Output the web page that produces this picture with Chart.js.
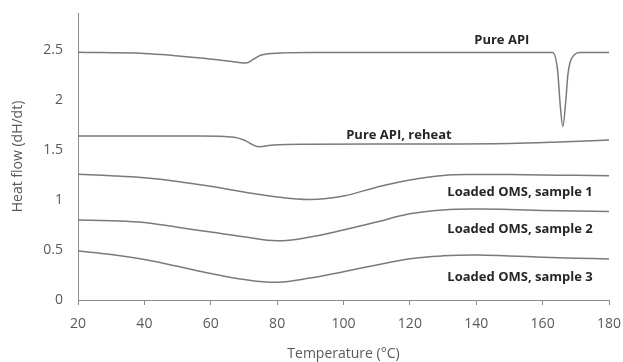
<!DOCTYPE html>
<html>
<head>
<meta charset="utf-8">
<script src="https://cdn.jsdelivr.net/npm/chart.js@4"></script>
<style>
  html, body { margin: 0; padding: 0; background: #fff; }
  #wrap { width: 623px; height: 362px; }
</style>
</head>
<body>
<div id="wrap"><canvas id="dscChart"></canvas></div>
<script>
// temperature (°C) / heat flow readings for each trace
var apiTemp = [20, 40, 57, 65, 70.6, 73, 75.2, 81, 90, 120, 150, 163, 164.5, 165.3, 166.1, 167, 167.6, 168.3, 169.5, 171, 180];
var apiFlow = [2.477, 2.465, 2.42, 2.39, 2.37, 2.41, 2.45, 2.47, 2.475, 2.475, 2.475, 2.475, 2.30, 1.95, 1.735, 2.0, 2.25, 2.38, 2.45, 2.475, 2.475];

var reheatTemp = [20, 57, 67, 70, 74.5, 79, 90, 120, 150, 165, 180];
var reheatFlow = [1.64, 1.64, 1.627, 1.60, 1.533, 1.55, 1.557, 1.56, 1.565, 1.58, 1.60];

var omsTemp = [20, 30, 40, 50, 60, 70, 80, 90, 100, 110, 120, 130, 140, 150, 160, 170, 180];
var oms1Flow = [1.257, 1.243, 1.222, 1.186, 1.137, 1.08, 1.03, 1.005, 1.04, 1.128, 1.20, 1.245, 1.255, 1.255, 1.25, 1.247, 1.243];
var oms2Flow = [0.80, 0.793, 0.775, 0.727, 0.68, 0.632, 0.592, 0.63, 0.70, 0.78, 0.862, 0.90, 0.91, 0.905, 0.895, 0.89, 0.885];
var oms3Flow = [0.49, 0.455, 0.405, 0.337, 0.265, 0.205, 0.178, 0.22, 0.283, 0.35, 0.413, 0.442, 0.45, 0.44, 0.428, 0.418, 0.41];

var traceNames = ["Pure API", "Pure API, reheat", "Loaded OMS, sample 1", "Loaded OMS, sample 2", "Loaded OMS, sample 3"];
// where each trace label sits, in data units
var labelTemp = [147.7, 116.7, 153.2, 153.2, 153.2];
var labelFlow = [2.60, 1.65, 1.075, 0.71, 0.225];

var yTicks = [0, 0.5, 1, 1.5, 2, 2.5];

function pts(xs, ys) {
  return xs.map(function (x, i) { return { x: x, y: ys[i] }; });
}

var traces = [
  pts(apiTemp, apiFlow),
  pts(reheatTemp, reheatFlow),
  pts(omsTemp, oms1Flow),
  pts(omsTemp, oms2Flow),
  pts(omsTemp, oms3Flow)
];

var labelPlugin = {
  id: 'traceLabels',
  afterDatasetsDraw: function (chart) {
    var c = chart.ctx, xs = chart.scales.x, ys = chart.scales.y;
    c.save();
    c.font = 'bold 13px "Open Sans"';
    c.fillStyle = '#262626';
    c.textAlign = 'center';
    c.textBaseline = 'middle';
    traceNames.forEach(function (name, i) {
      c.fillText(name, xs.getPixelForValue(labelTemp[i]), ys.getPixelForValue(labelFlow[i]));
    });
    c.restore();
  }
};

var ctx = document.getElementById("dscChart").getContext('2d');
var dscChart = new Chart(ctx, {
  type: 'scatter',
  data: {
    datasets: traces.map(function (d, i) {
      return {
        label: traceNames[i],
        data: d,
        showLine: true,
        borderColor: '#7a7a7a',
        borderWidth: 1.5,
        pointRadius: 0,
        tension: 0.4,
        cubicInterpolationMode: i < 2 ? 'monotone' : 'default'
      };
    })
  },
  options: {
    responsive: true,
    maintainAspectRatio: false,
    animation: false,
    layout: { padding: { top: 13, right: 14, left: 0, bottom: 0 } },
    plugins: {
      legend: { display: false },
      tooltip: { enabled: false }
    },
    scales: {
      x: {
        type: 'linear',
        min: 20,
        max: 180,
        afterFit: function (s) { s.height = 62; s.paddingLeft = 0; s.paddingRight = 0; },
        border: { color: '#8c8c8c', width: 1 },
        grid: { drawOnChartArea: false, drawTicks: true, tickLength: 5, color: '#8c8c8c' },
        ticks: { stepSize: 20, padding: 11, color: '#595959', font: { family: 'Open Sans', size: 14 } },
        title: {
          display: true,
          text: 'Temperature (°C)',
          color: '#595959',
          font: { family: 'Open Sans', size: 14 },
          padding: { top: 0, bottom: 0 }
        }
      },
      y: {
        type: 'linear',
        min: 0,
        max: 2.87,
        afterFit: function (s) { s.width = 78; s.paddingTop = 0; s.paddingBottom = 0; },
        afterBuildTicks: function (s) { s.ticks = yTicks.map(function (v) { return { value: v }; }); },
        border: { color: '#8c8c8c', width: 1 },
        grid: { display: false, drawTicks: false },
        ticks: {
          padding: 15,
          color: '#595959',
          font: { family: 'Open Sans', size: 14 },
          callback: function (v) { return String(v); }
        },
        title: {
          display: true,
          text: 'Heat flow (dH/dt)',
          color: '#595959',
          font: { family: 'Open Sans', size: 14 },
          padding: { top: 10, bottom: 0 }
        }
      }
    }
  },
  plugins: [labelPlugin]
});
</script>
</body>
</html>
